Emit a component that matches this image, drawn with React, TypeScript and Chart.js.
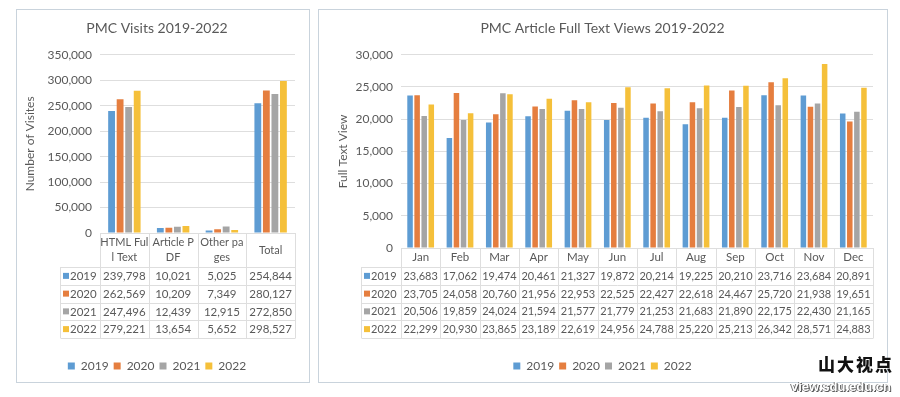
import React, { useEffect, useRef } from "react";
import { Chart, registerables } from "chart.js";

Chart.register(...registerables);

// ---------- data ----------
const years = ["2019", "2020", "2021", "2022"];

const visitCategories = ["HTML Full Text", "Article PDF", "Other pages", "Total"];
const visitHeaderLines = [["HTML Ful", "l Text"], ["Article P", "DF"], ["Other pa", "ges"], ["Total"]];
const visits2019 = [239798, 10021, 5025, 254844];
const visits2020 = [262569, 10209, 7349, 280127];
const visits2021 = [247496, 12439, 12915, 272850];
const visits2022 = [279221, 13654, 5652, 298527];

const months = ["Jan", "Feb", "Mar", "Apr", "May", "Jun", "Jul", "Aug", "Sep", "Oct", "Nov", "Dec"];
const views2019 = [23683, 17062, 19474, 20461, 21327, 19872, 20214, 19225, 20210, 23716, 23684, 20891];
const views2020 = [23705, 24058, 20760, 21956, 22953, 22525, 22427, 22618, 24467, 25720, 21938, 19651];
const views2021 = [20506, 19859, 24024, 21594, 21577, 21779, 21253, 21683, 21890, 22175, 22430, 21165];
const views2022 = [22299, 20930, 23865, 23189, 22619, 24956, 24788, 25220, 25213, 26342, 28571, 24883];

const visitsTitle = "PMC Visits 2019-2022";
const viewsTitle = "PMC Article Full Text Views 2019-2022";
const visitsAxisTitle = "Number of Visites";
const viewsAxisTitle = "Full Text View";

// ---------- styles ----------
const COLORS = ["#5E9CD3", "#E57E3F", "#A5A5A5", "#F5C03A"];
const TEXT = "#595959";
const GRID = "#DEDEDE";
const FONT = "Lato, 'Open Sans', sans-serif";

const fmt = (v: number) => v.toLocaleString("en-US");

type TableOpts = {
  headers: string[][];
  series: number[][];
  labels: string[];
  headerH: number;
  rowH: number;
  labelW: number;
  fontSize: number;
  headerFontSize: number;
};

function makeTablePlugin(o: TableOpts) {
  return {
    id: "dataTable",
    afterDraw(chart: any) {
      const { ctx, chartArea } = chart;
      const { left, right, bottom } = chartArea;
      const n = o.headers.length;
      const w = (right - left) / n;
      const tableTop = bottom;
      const rowsTop = tableTop + o.headerH;
      const tableBottom = rowsTop + o.series.length * o.rowH;
      const labelLeft = left - o.labelW;
      ctx.save();
      ctx.strokeStyle = GRID;
      ctx.lineWidth = 1;
      ctx.beginPath();
      for (let i = 0; i <= n; i++) {
        const x = Math.round(left + i * w) + 0.5;
        ctx.moveTo(x, tableTop);
        ctx.lineTo(x, tableBottom);
      }
      const lx = Math.round(labelLeft) + 0.5;
      ctx.moveTo(lx, rowsTop);
      ctx.lineTo(lx, tableBottom);
      for (let r = 0; r <= o.series.length; r++) {
        const y = Math.round(rowsTop + r * o.rowH) + 0.5;
        ctx.moveTo(lx, y);
        ctx.lineTo(Math.round(right) + 0.5, y);
      }
      ctx.stroke();

      ctx.fillStyle = TEXT;
      ctx.font = `${o.headerFontSize}px ${FONT}`;
      ctx.textAlign = "center";
      ctx.textBaseline = "middle";
      const lineGap = 15;
      o.headers.forEach((lines, i) => {
        const cx = left + (i + 0.5) * w;
        const cy = tableTop + o.headerH / 2;
        const start = cy - ((lines.length - 1) * lineGap) / 2;
        lines.forEach((t, j) => ctx.fillText(t, cx, start + j * lineGap));
      });
      ctx.font = `${o.fontSize}px ${FONT}`;
      o.series.forEach((vals, r) => {
        const cy = rowsTop + (r + 0.5) * o.rowH;
        ctx.fillStyle = COLORS[r];
        ctx.fillRect(labelLeft + 3, cy - 3, 6, 6);
        ctx.fillStyle = TEXT;
        ctx.textAlign = "left";
        ctx.fillText(o.labels[r], labelLeft + 10, cy + 0.5);
        ctx.textAlign = "center";
        vals.forEach((v, i) => {
          ctx.fillText(fmt(v), left + (i + 0.5) * w, cy + 0.5);
        });
      });
      ctx.restore();
    },
  };
}

type ChartSpec = {
  width: number;
  height: number;
  title: string;
  axisTitle: string;
  categories: string[];
  series: number[][];
  headers: string[][];
  max: number;
  step: number;
  padLeft: number;
  yWidth: number;
  xHeight: number;
  headerH: number;
  catPct: number;
  barPct: number;
  tableFont: number;
  headerFont: number;
};

function BarTableChart({ spec }: { spec: ChartSpec }) {
  const ref = useRef<HTMLCanvasElement | null>(null);
  useEffect(() => {
    if (!ref.current) return;
    const chart = new Chart(ref.current, {
      type: "bar",
      data: {
        labels: spec.categories,
        datasets: spec.series.map((d, i) => ({
          label: years[i],
          data: d,
          backgroundColor: COLORS[i],
          categoryPercentage: spec.catPct,
          barPercentage: spec.barPct,
        })),
      },
      options: {
        responsive: false,
        animation: false,
        layout: { padding: { left: spec.padLeft, right: 15, top: 0, bottom: 1 } },
        plugins: {
          title: {
            display: true,
            text: spec.title,
            color: TEXT,
            font: { family: FONT, size: 14, weight: "normal" },
            padding: { top: 11, bottom: 18 },
          },
          legend: {
            position: "bottom",
            labels: {
              boxWidth: 7,
              boxHeight: 7,
              padding: 5,
              color: TEXT,
              font: { family: FONT, size: 12 },
            },
          },
          tooltip: { enabled: false },
        },
        scales: {
          x: {
            ticks: { display: false },
            grid: { display: false },
            border: { display: true, color: GRID },
            afterFit: (s: any) => {
              s.height = spec.xHeight;
            },
          },
          y: {
            min: 0,
            max: spec.max,
            ticks: {
              stepSize: spec.step,
              padding: 8,
              color: TEXT,
              font: { family: FONT, size: 12 },
              callback: (v: any) => fmt(Number(v)),
            },
            grid: { color: GRID, drawTicks: false },
            border: { display: false },
            title: {
              display: true,
              text: spec.axisTitle,
              color: TEXT,
              font: { family: FONT, size: 12 },
            },
            afterFit: (s: any) => {
              s.width = spec.yWidth;
            },
          },
        },
      },
      plugins: [
        makeTablePlugin({
          headers: spec.headers,
          series: spec.series,
          labels: years,
          headerH: spec.headerH,
          rowH: 17.75,
          labelW: 40,
          fontSize: spec.tableFont,
          headerFontSize: spec.headerFont,
        }),
      ],
    } as any);
    return () => chart.destroy();
  }, [spec]);
  return <canvas ref={ref} width={spec.width} height={spec.height} style={{ display: "block" }} />;
}

const visitsSpec: ChartSpec = {
  width: 294,
  height: 374,
  title: visitsTitle,
  axisTitle: visitsAxisTitle,
  categories: visitCategories,
  series: [visits2019, visits2020, visits2021, visits2022],
  headers: visitHeaderLines,
  max: 350000,
  step: 50000,
  padLeft: 3,
  yWidth: 81,
  xHeight: 122,
  headerH: 34,
  catPct: 0.7,
  barPct: 0.8,
  tableFont: 11.5,
  headerFont: 11,
};

const viewsSpec: ChartSpec = {
  width: 570,
  height: 374,
  title: viewsTitle,
  axisTitle: viewsAxisTitle,
  categories: months,
  series: [views2019, views2020, views2021, views2022],
  headers: months.map((m) => [m]),
  max: 30000,
  step: 5000,
  padLeft: 14,
  yWidth: 69,
  xHeight: 107,
  headerH: 19,
  catPct: 0.72,
  barPct: 0.78,
  tableFont: 11,
  headerFont: 11.5,
};

const boxStyle = (left: number, top: number, w: number, h: number): React.CSSProperties => ({
  position: "absolute",
  left,
  top,
  width: w,
  height: h,
});

export default function App() {
  return (
    <div style={{ position: "absolute", left: 0, top: 0, width: 900, height: 397, background: "#fff", overflow: "hidden" }}>
      <div style={boxStyle(16, 9, 294, 374)}>
        <BarTableChart spec={visitsSpec} />
        <div style={{ position: "absolute", inset: 0, border: "1px solid #C9D3DC", pointerEvents: "none" }} />
      </div>
      <div style={boxStyle(318, 9, 570, 374)}>
        <BarTableChart spec={viewsSpec} />
        <div style={{ position: "absolute", inset: 0, border: "1px solid #C9D3DC", pointerEvents: "none" }} />
      </div>
      <div
        style={{
          position: "absolute",
          left: 818,
          top: 354,
          fontFamily: "'Noto Sans CJK SC', sans-serif",
          fontWeight: 900,
          fontSize: 17,
          letterSpacing: 2,
          color: "#111",
          lineHeight: "20px",
        }}
      >
        山大视点
      </div>
      <div
        style={{
          position: "absolute",
          left: 791,
          top: 379,
          fontFamily: "'Liberation Sans', sans-serif",
          fontWeight: 700,
          fontSize: 13,
          color: "#fff",
          textShadow: "1px 1px 0 #555, -1px 0 0 #777",
          lineHeight: "16px",
        }}
      >
        view.sdu.edu.cn
      </div>
    </div>
  );
}
